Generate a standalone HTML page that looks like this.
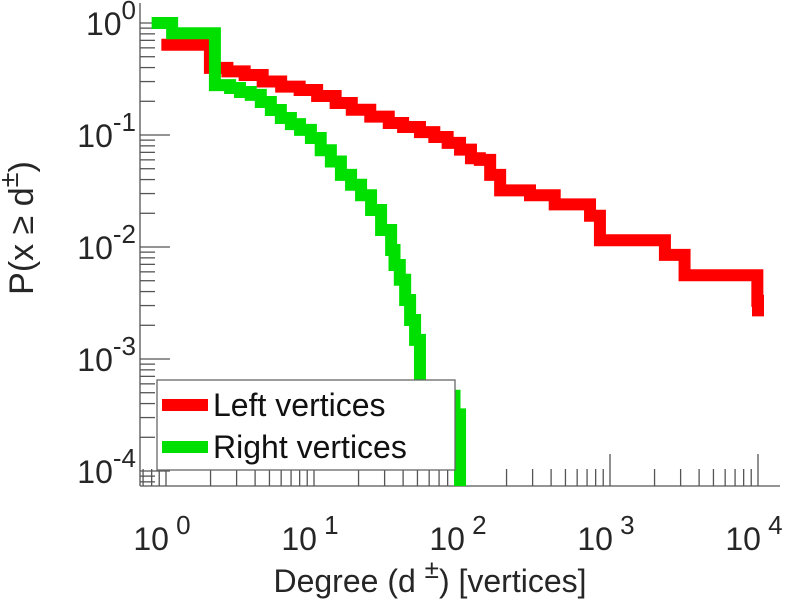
<!DOCTYPE html>
<html><head><meta charset="utf-8"><style>
html,body{margin:0;padding:0;background:#fff;}
svg{display:block;font-family:"Liberation Sans",sans-serif;}
</style></head><body>
<svg id="chart" width="791" height="600"></svg>
<script>
const redDegrees=[0.93,1.98,2.6,3.4,4.5,6,8,10.5,14,18,24,32,40,52,65,80,97,115,132,155,181,288,423,733,855,2350,3190,9900,10000];
const redProbs=[0.64,0.397,0.37,0.343,0.30,0.27,0.252,0.223,0.193,0.168,0.146,0.128,0.118,0.106,0.096,0.085,0.074,0.062,0.060,0.044,0.032,0.029,0.024,0.019,0.0115,0.0085,0.0056,0.0033,0.0024];
const greenDegrees=[0.8,1.1,2.14,2.71,3.16,3.74,4.37,5.11,5.97,6.98,8.05,9.53,11.1,13.0,15.2,17.8,20.8,24.3,28.4,33.2,35.0,38.0,41.3,44.6,48.2,52,89,97,97];
const greenProbs=[1,0.81,0.279,0.263,0.242,0.228,0.197,0.167,0.142,0.125,0.111,0.094,0.073,0.058,0.044,0.036,0.029,0.0214,0.0142,0.0094,0.0069,0.0051,0.00336,0.00223,0.00148,0.00047,0.00032,0.0002,0.00005];
const xTickExps=[0,1,2,3,4];
const yTickExps=[0,-1,-2,-3,-4];

const NS="http://www.w3.org/2000/svg";
const svg=document.getElementById('chart');
const L=140,R=780,T=3,B=486;
function X(d){return 166+148*Math.log10(d);}
function Y(p){return 23-112*Math.log10(p);}
function mk(tag,attrs,parent){const e=document.createElementNS(NS,tag);for(const k in attrs)e.setAttribute(k,attrs[k]);(parent||svg).appendChild(e);return e;}

const defs=mk('defs',{});
const cp=mk('clipPath',{id:'plotclip'},defs);
mk('rect',{x:L,y:T,width:R-L,height:B-T},cp);

const axes=mk('g',{stroke:'#555','stroke-width':1.3});


mk('line',{x1:L,y1:T,x2:L,y2:B},axes);
mk('line',{x1:L,y1:B,x2:R,y2:B},axes);
for(let e=-1;e<=4;e++){for(let m=1;m<10;m++){const v=m*Math.pow(10,e);const x=X(v);if(x<L||x>R)continue;
 const len=m===1?32:17;const t=mk('line',{x1:x,y1:B,x2:x,y2:B-len},axes);
 
 }}
for(let e=-5;e<=0;e++){for(let m=1;m<10;m++){const v=m*Math.pow(10,e);const y=Y(v);if(y<T||y>B)continue;
 const len=m===1?30:15;const t=mk('line',{x1:L,y1:y,x2:L+len,y2:y},axes);
 
 }}

xTickExps.forEach(e=>{const t=mk('text',{x:X(Math.pow(10,e))-4,y:550,'font-size':32,fill:'#262626','text-anchor':'middle'});
 
 
 t.innerHTML='10<tspan dy="-16" font-size="26"> '+e+'</tspan>';});
yTickExps.forEach(e=>{const t=mk('text',{x:136,y:Y(Math.pow(10,e))+12,'font-size':32,fill:'#262626','text-anchor':'end'});
 
 
 t.innerHTML='10<tspan dy="-16" font-size="26">'+e+'</tspan>';});

function stairs(ds,ps){let s='';for(let i=0;i<ds.length;i++){const x=X(ds[i]),y=Y(ps[i]);
 if(i===0)s+='M'+x+','+y;else s+=' L'+x+','+Y(ps[i-1])+' L'+x+','+y;}
 return s;}
const g=mk('g',{'clip-path':'url(#plotclip)'});
const red=mk('path',{d:stairs(redDegrees,redProbs),fill:'none',stroke:'#ff0000','stroke-width':12},g);


const green=mk('path',{d:stairs(greenDegrees,greenProbs),fill:'none',stroke:'#00e000','stroke-width':12},g);



const lg=mk('g',{});


mk('rect',{x:157,y:380,width:298,height:90,fill:'#fff',stroke:'#666','stroke-width':1.3},lg);
mk('line',{x1:162,y1:405,x2:208,y2:405,stroke:'#ff0000','stroke-width':12},lg);
mk('line',{x1:162,y1:447,x2:208,y2:447,stroke:'#00e000','stroke-width':12},lg);
const t1=mk('text',{x:213,y:416,'font-size':32,fill:'#111'},lg);t1.textContent='Left vertices';


const t2=mk('text',{x:213,y:458,'font-size':32,fill:'#111'},lg);t2.textContent='Right vertices';



const xt=mk('text',{x:430,y:592,'font-size':32,fill:'#262626','text-anchor':'middle'});


xt.innerHTML='Degree (d <tspan dy="-14" font-size="26"> ±</tspan><tspan dy="14">) [vertices]</tspan>';
const yt=mk('text',{x:0,y:0,'font-size':34,fill:'#262626','text-anchor':'middle',transform:'translate(33,228) rotate(-90)'});


yt.innerHTML='P(x ≥ d<tspan dy="-15" font-size="27">±</tspan><tspan dy="15">)</tspan>';
</script>
</body></html>
